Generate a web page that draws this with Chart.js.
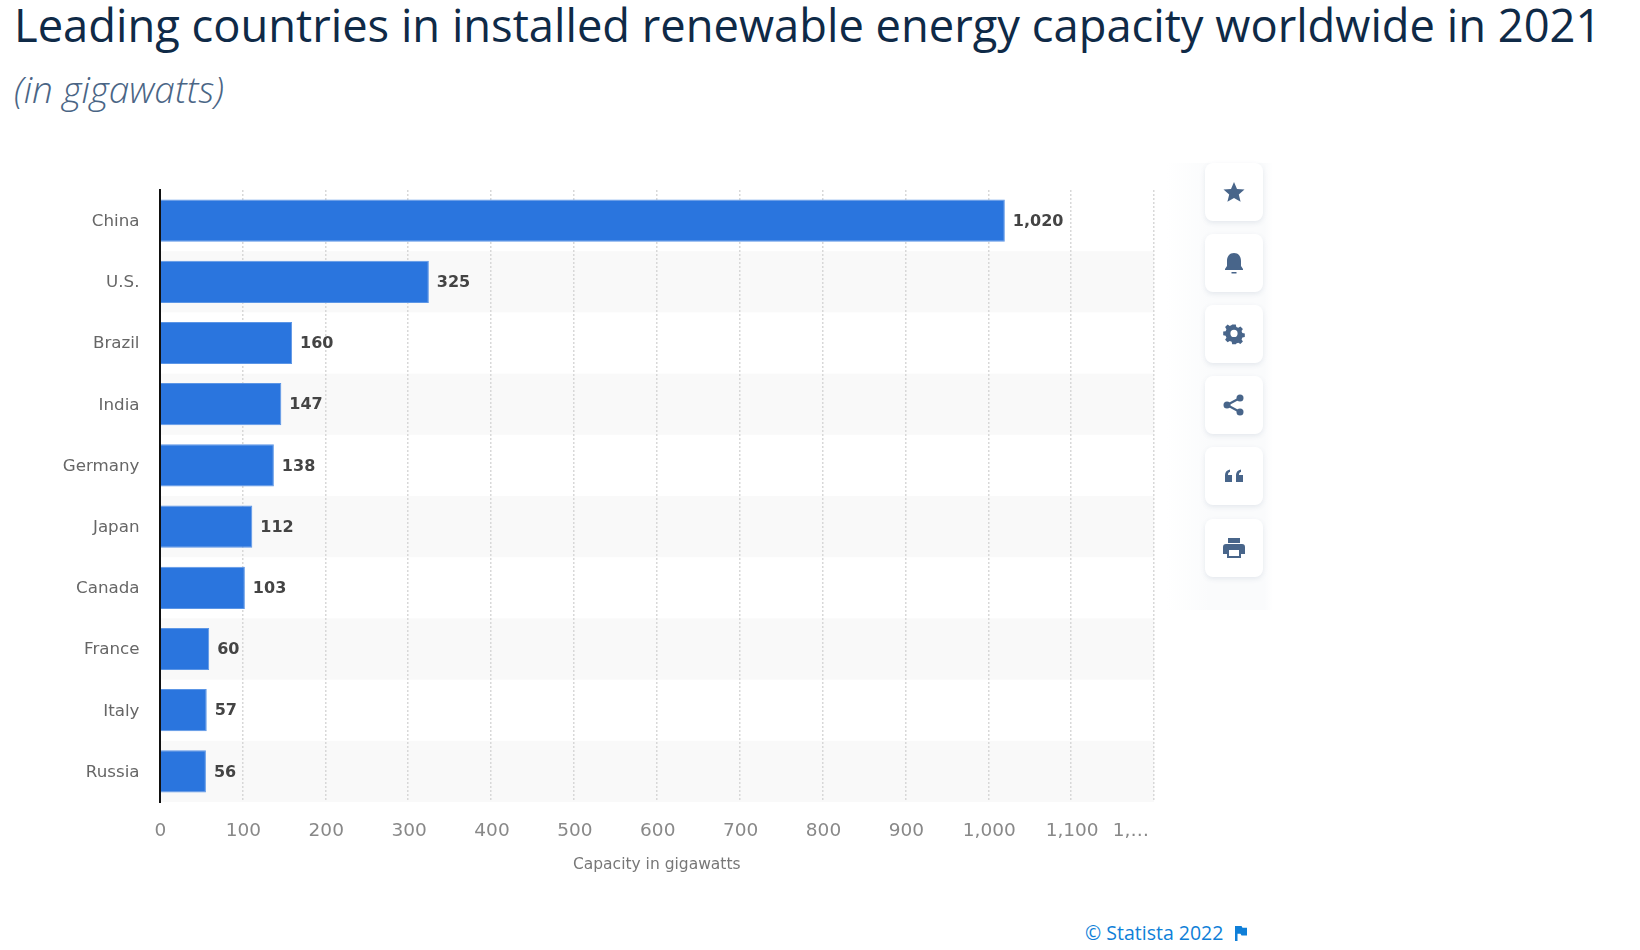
<!DOCTYPE html>
<html>
<head>
<meta charset="utf-8">
<title>Leading countries in installed renewable energy capacity worldwide in 2021</title>
<script src="https://cdn.jsdelivr.net/npm/chart.js@4/dist/chart.umd.min.js"></script>
<style>
    html, body { margin: 0; background: #fff; width: 1640px; height: 950px; overflow: hidden; }
    h1, h2, a { position: absolute; margin: 0; white-space: nowrap; font-family: "Open Sans", sans-serif; }
    h1 { left: 14px; top: -5px; font-size: 45.3px; line-height: 60px; font-weight: 500; color: #0f2a47; }
    h2 { left: 14px; top: 65px; font-size: 37px; line-height: 48px; font-weight: 300; font-style: italic; color: #4a6585; }
    #chart { position: absolute; left: 0; top: 150px; }
    #panel { position: absolute; left: 1167px; top: 163px; width: 106px; height: 447px;
        background: linear-gradient(90deg, #fff, #fafbfc 40%, #fafbfc 92%, #fff); }
    .btn { position: absolute; left: 1205px; width: 58px; height: 58px; background: #fff; border-radius: 8px;
        box-shadow: 0 2px 5px rgba(70, 95, 130, 0.12); display: flex; align-items: center; justify-content: center; }
    .btn svg { width: 24px; height: 24px; fill: #48658a; }
    a { left: 1085px; top: 919px; font-size: 19.5px; line-height: 28px; color: #0f7fd8; text-decoration: none; }
    #flag { position: absolute; left: 1235px; top: 926px; width: 12px; height: 15px; fill: #0f7fd8; }
</style>
</head>
<body>
<h1>Leading countries in installed renewable energy capacity worldwide in 2021</h1>
<h2>(in gigawatts)</h2>
<canvas id="chart" width="1200" height="750"></canvas>
<div id="panel"></div>
<div class="btn" style="top:163px"><svg viewBox="0 0 24 24"><path d="M12 2l3 7 7.5.6-5.7 4.9 1.8 7.3L12 18l-6.6 3.8 1.8-7.3L1.500 9.600 9 9z"/></svg></div>
<div class="btn" style="top:234px"><svg viewBox="0 0 24 24"><path d="M12 2c4.500 0 7 3.500 7 8v5l2 3v1H3v-1l2-3v-5c0-4.500 2.500-8 7-8zM9.500 21h5v1.500h-5z"/></svg></div>
<div class="btn" style="top:305px"><svg viewBox="0 0 24 24"><path fill-rule="evenodd" d="M10 2h4l.6 2.800 2.100.9 2.400-1.500 2.800 2.800-1.500 2.400.9 2.100 2.700.5v4l-2.700.6-.9 2.100 1.500 2.400-2.800 2.800-2.400-1.500-2.100.9L14 24h-4l-.6-2.700-2.100-.9-2.400 1.500-2.800-2.800 1.500-2.400-.9-2.100L0 14v-4l2.700-.5.9-2.100-1.500-2.400 2.800-2.800 2.400 1.500 2.100-.9zM12 8a4 4 0 1 0 0 8 4 4 0 0 0 0-8z" transform="translate(1.200 .600) scale(.9)"/></svg></div>
<div class="btn" style="top:376px"><svg viewBox="0 0 24 24"><circle cx="18" cy="5" r="3.500"/><circle cx="18" cy="19" r="3.500"/><circle cx="5" cy="12" r="3.500"/><path d="M5 12L18 5M5 12l13 7" stroke="#48658a" stroke-width="2.200"/></svg></div>
<div class="btn" style="top:447px"><svg viewBox="0 0 24 24"><path d="M3 18v-7c0-3 2-5 5-5.500V8c-1.500.3-2 1.200-2 3h4v7zM14 18v-7c0-3 2-5 5-5.500V8c-1.500.3-2 1.200-2 3h4v7z"/></svg></div>
<div class="btn" style="top:519px"><svg viewBox="0 0 24 24"><path fill-rule="evenodd" d="M6 2h12v5H6zM4 8h16a3 3 0 0 1 3 3v7h-4v4H5v-4H1v-7a3 3 0 0 1 3-3zM7 14v6h10v-6z"/></svg></div>
<a>© Statista 2022</a>
<svg id="flag" viewBox="0 0 12 15"><path d="M0 0h6.500l1 1.800H12v7.700H6.500l-1-1.800H2.500V15H0z"/></svg>
<script>
// Chart data
const countries = ['China', 'U.S.', 'Brazil', 'India', 'Germany', 'Japan', 'Canada', 'France', 'Italy', 'Russia'];
const capacity = [1020, 325, 160, 147, 138, 112, 103, 60, 57, 56];
const tickLabels = ['0', '100', '200', '300', '400', '500', '600', '700', '800', '900', '1,000', '1,100', '1,…'];

const tickFont = { family: '"DejaVu Sans"', size: 18.5 };

// Grey bands behind every second row
const rowBands = {
    id: 'rowBands',
    beforeDraw(chart) {
        const { ctx, chartArea, scales } = chart;
        const rowHeight = chartArea.height / countries.length;
        ctx.save();
        ctx.fillStyle = '#f9f9f9';
        countries.forEach((c, i) => {
            if (i % 2 === 1) {
                ctx.fillRect(chartArea.left, scales.y.getPixelForValue(i) - rowHeight / 2, chartArea.width, rowHeight);
            }
        });
        ctx.restore();
    }
};

// Value labels at the end of each bar, and the cut off last tick label
const barValues = {
    id: 'barValues',
    afterDatasetsDraw(chart) {
        const { ctx, scales } = chart;
        ctx.save();
        ctx.font = 'bold 16px "DejaVu Sans"';
        ctx.fillStyle = '#444';
        ctx.textAlign = 'left';
        ctx.textBaseline = 'middle';
        chart.getDatasetMeta(0).data.forEach((bar, i) => {
            ctx.fillText(capacity[i].toLocaleString('en-US'), bar.x + 8, bar.y + 1);
        });
        const last = tickLabels.length - 1;
        ctx.font = '18.5px "DejaVu Sans"';
        ctx.fillStyle = '#888';
        ctx.textAlign = 'right';
        ctx.fillText(tickLabels[last], scales.x.getPixelForValue(last * 100) - 5, scales.x.top + 29);
        ctx.restore();
    }
};

new Chart(document.getElementById('chart').getContext('2d'), {
    type: 'bar',
    data: {
        labels: countries,
        datasets: [{
            data: capacity,
            backgroundColor: '#2a75de',
            borderColor: '#5c96e6',
            borderWidth: 1,
            barPercentage: 0.69,
            categoryPercentage: 1
        }]
    },
    options: {
        indexAxis: 'y',
        responsive: false,
        animation: false,
        layout: { padding: { top: 40, right: 46, bottom: 0, left: 0 } },
        plugins: {
            legend: { display: false },
            tooltip: { enabled: false }
        },
        scales: {
            x: {
                min: 0,
                max: 1200,
                afterFit(scale) { scale.height = 98; },
                afterBuildTicks(scale) {
                    scale.ticks = tickLabels.map((t, i) => ({ value: i * 100 }));
                },
                ticks: {
                    autoSkip: false,
                    maxRotation: 0,
                    padding: 18,
                    labelOffset: 1,
                    color: '#888',
                    font: tickFont,
                    callback: (value, i) => (i === tickLabels.length - 1 ? '' : tickLabels[i])
                },
                grid: { color: '#d8d8d8', lineWidth: 1.5, drawTicks: false, tickLength: 0 },
                border: { display: false, dash: [2, 2] },
                title: {
                    display: true,
                    text: 'Capacity in gigawatts',
                    color: '#777',
                    font: { family: '"DejaVu Sans"', size: 15.5 },
                    padding: { top: 0, bottom: 26 }
                }
            },
            y: {
                afterFit(scale) { scale.width = 159.5; },
                ticks: {
                    padding: 20,
                    labelOffset: 1,
                    color: '#666',
                    font: { family: '"DejaVu Sans"', size: 16.7 }
                },
                grid: { display: false, drawTicks: false },
                border: { color: '#111', width: 2, z: 1 }
            }
        }
    },
    plugins: [rowBands, barValues]
});
</script>
</body>
</html>
